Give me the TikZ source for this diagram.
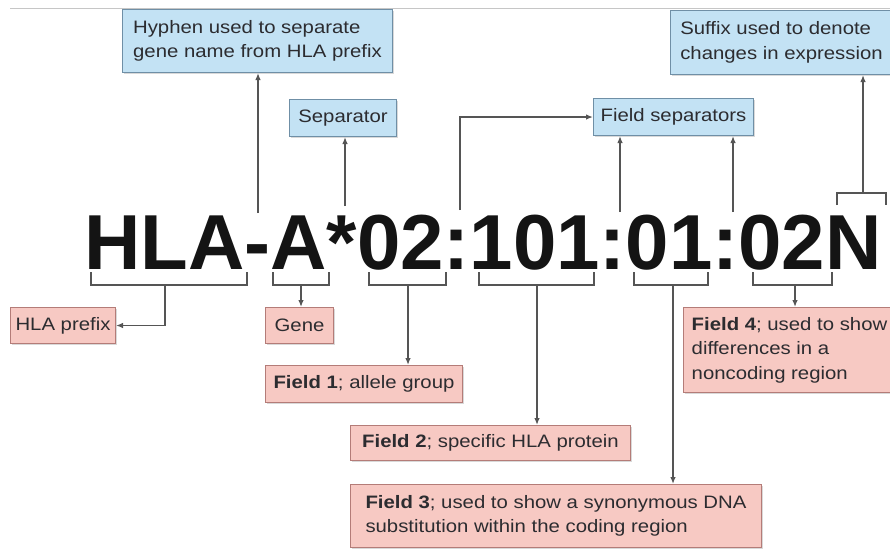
\documentclass[tikz,border=0pt]{standalone}
\usepackage{fontspec}
\newfontfamily\labelfont[FakeStretch=1.13]{Liberation Sans}
\newfontfamily\allelefont{Liberation Sans}
\usetikzlibrary{arrows.meta,shadows}
\definecolor{bluefill}{HTML}{C3E2F4}
\definecolor{blueline}{HTML}{6F8FA6}
\definecolor{pinkfill}{HTML}{F7C9C3}
\definecolor{pinkline}{HTML}{B47C78}
\definecolor{inkgray}{HTML}{2C2C30}
\definecolor{linkgray}{HTML}{555555}
\begin{document}
\begin{tikzpicture}[
                x=1pt, y=-1pt,
                every node/.style={inner sep=0pt, text=inkgray,
                    font=\labelfont\fontsize{18}{24.5}\selectfont},
                labelbox/.style={anchor=north west, align=left,
                    line width=1pt,
                    drop shadow={shadow xshift=1.5pt, shadow yshift=-1.5pt, opacity=0.3}},
                bluebox/.style={labelbox, draw=blueline, fill=bluefill},
                pinkbox/.style={labelbox, draw=pinkline, fill=pinkfill},
                link/.style={draw=linkgray, line width=1.3pt},
                pointer/.style={link, -{Latex[length=7pt,width=5.5pt]}}
            ]
            \useasboundingbox (0,0) rectangle (890,550);
            \draw[gray!45, line width=0.8pt] (10,8) -- (890,8);

            % Allele name
            \node[anchor=base west, text=black!92,
                font=\allelefont\bfseries\fontsize{78}{78}\selectfont] (allele) at (84,269) {HLA-A*02:101:01:02N};

            % Upper labels
            \node[bluebox, minimum width=270pt, minimum height=63pt] (hyphen) at (122,9)
                {Hyphen used to separate\\gene name from HLA prefix};
            \node[bluebox, minimum width=107pt, minimum height=37pt] (sep) at (289,99) {Separator};
            \node[bluebox, minimum width=160pt, minimum height=37pt] (fieldsep) at (593,98) {Field separators};
            \node[bluebox, minimum width=222pt, minimum height=64pt] (suffix) at (670,10)
                {Suffix used to denote\\changes in expression};

            % Lower labels
            \node[pinkbox, minimum width=105pt, minimum height=36pt] (prefix) at (10,307) {HLA prefix};
            \node[pinkbox, minimum width=68pt, minimum height=36pt] (gene) at (265,307) {Gene};
            \node[pinkbox, minimum width=197pt, minimum height=37pt] (field1) at (265,365)
                {\textbf{Field 1}; allele group};
            \node[pinkbox, minimum width=280pt, minimum height=35pt] (field2) at (350,425)
                {\textbf{Field 2}; specific HLA protein};
            \node[pinkbox, minimum width=411pt, minimum height=63pt] (field3) at (350,484)
                {\textbf{Field 3}; used to show a synonymous DNA\\substitution within the coding region};
            \node[pinkbox, minimum width=212pt, minimum height=85pt] (field4) at (683,307)
                {\textbf{Field 4}; used to show\\differences in a\\noncoding region};

            % Brackets under the name
            \foreach \l/\r/\m/\n in {91/247/165/hla, 273/329/301/gene, 369/446/408/one,
                                    479/594/537/two, 634/708/673/three, 753/832/795/four} {
                \coordinate (b\n) at (\m,285);
                \draw[link] (\l,272) -- (\l,285) -- (\r,285) -- (\r,272);
            }
            \draw[pointer] (bhla) |- (prefix.east);
            \draw[pointer] (bgene) -- (bgene |- gene.north);
            \draw[pointer] (bone) -- (bone |- field1.north);
            \draw[pointer] (btwo) -- (btwo |- field2.north);
            \draw[pointer] (bthree) -- (bthree |- field3.north);
            \draw[pointer] (bfour) -- (bfour |- field4.north);

            % Pointers above the name
            \coordinate (thyphen) at (258,213);
            \coordinate (tstar) at (345,206);
            \coordinate (tcolon1) at (460,210);
            \coordinate (tcolon2) at (620,212);
            \coordinate (tcolon3) at (733,212);
            \coordinate (tsuffix) at (863,193);
            \draw[pointer] (thyphen) -- (thyphen |- hyphen.south);
            \draw[pointer] (tstar) -- (tstar |- sep.south);
            \draw[pointer] (tcolon1) |- (fieldsep.west);
            \draw[pointer] (tcolon2) -- (tcolon2 |- fieldsep.south);
            \draw[pointer] (tcolon3) -- (tcolon3 |- fieldsep.south);
            \draw[link] (837,205) -- (837,193) -- (886,193) -- (886,205);
            \draw[pointer] (tsuffix) -- (tsuffix |- suffix.south);

            \end{tikzpicture}
\end{document}
